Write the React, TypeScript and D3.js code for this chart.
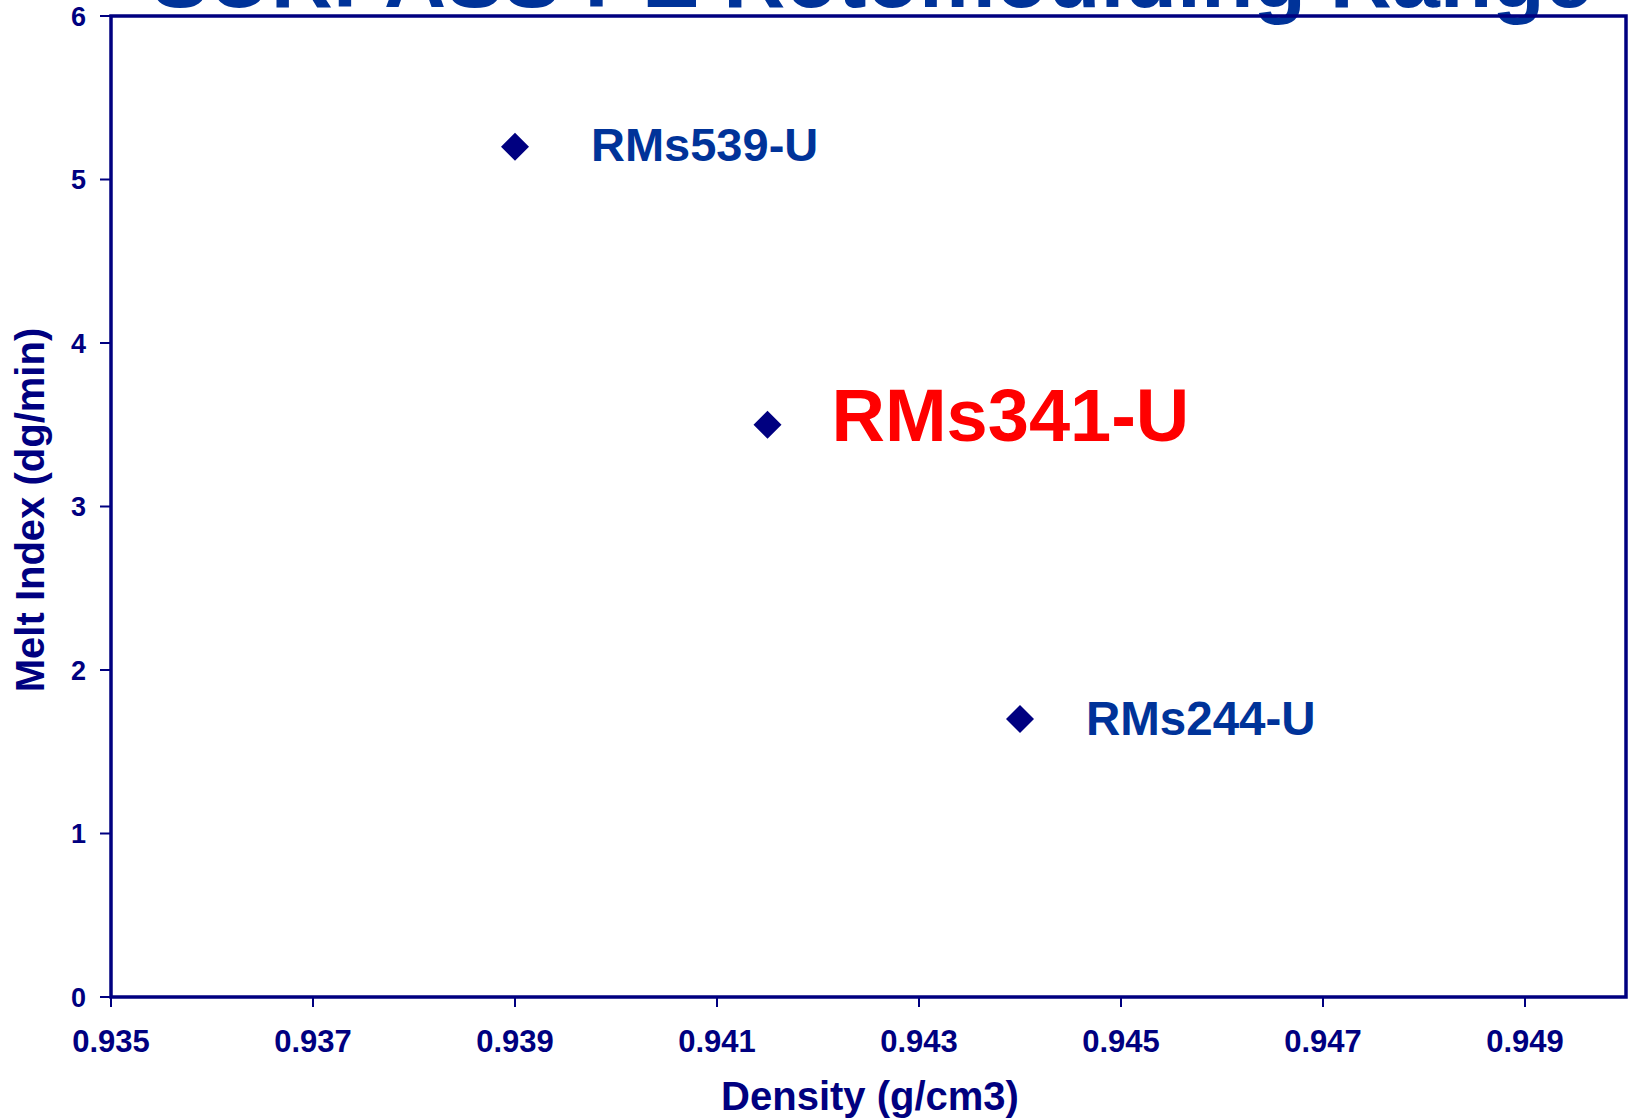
import React from "react";
import * as d3 from "d3";

const grades = ["RMs539-U", "RMs341-U", "RMs244-U"];
const density = [0.939, 0.9415, 0.944];
const meltIndex = [5.2, 3.5, 1.7];
const xTicks = [0.935, 0.937, 0.939, 0.941, 0.943, 0.945, 0.947, 0.949];
const yTicks = [0, 1, 2, 3, 4, 5, 6];

const labelStyles = [
  { color: "#003399", size: 47, dx: 76, dy: 14 },
  { color: "#FF0000", size: 74, dx: 64, dy: 16 },
  { color: "#003399", size: 47.5, dx: 66, dy: 16 },
];

const W = 1631;
const H = 1120;
const left = 111;
const right = 1626;
const top = 16;
const bottom = 997;
const navy = "#000080";
const font = "'Liberation Sans', Arial, sans-serif";

export default function App() {
  const x = d3.scaleLinear().domain([0.935, 0.95]).range([left, right]);
  const y = d3.scaleLinear().domain([0, 6]).range([bottom, top]);
  const diamond = d3.symbol().type(d3.symbolDiamond2).size(500)();

  return (
    <div style={{ position: "absolute", left: 0, top: 0 }}>
      <svg width={W} height={H} style={{ display: "block", background: "#fff" }} fontFamily={font}>
        <text x={872} y={7} textAnchor="middle" fontSize={86} fontWeight="bold" fill="#003399">
          SURPASS PE Rotomoulding Range
        </text>
        <rect x={left} y={top} width={right - left} height={bottom - top} fill="none" stroke={navy} strokeWidth={3.5} />
        {yTicks.map((t) => (
          <g key={"y" + t}>
            <line x1={left - 11} x2={left} y1={y(t)} y2={y(t)} stroke={navy} strokeWidth={2} />
            <text x={86} y={y(t) + 9.5} textAnchor="end" fontSize={27} fontWeight="bold" fill={navy}>
              {t}
            </text>
          </g>
        ))}
        {xTicks.map((t) => (
          <g key={"x" + t}>
            <line x1={x(t)} x2={x(t)} y1={bottom} y2={bottom + 10} stroke={navy} strokeWidth={2} />
            <text x={x(t)} y={1052} textAnchor="middle" fontSize={31} fontWeight="bold" fill={navy}>
              {d3.format(".3f")(t)}
            </text>
          </g>
        ))}
        <text x={870} y={1110} textAnchor="middle" fontSize={40} fontWeight="bold" fill={navy}>
          Density (g/cm3)
        </text>
        <text
          transform={`translate(44, 510) rotate(-90)`}
          textAnchor="middle"
          fontSize={40}
          fontWeight="bold"
          fill={navy}
        >
          Melt Index (dg/min)
        </text>
        {grades.map((g, i) => (
          <g key={g}>
            <path d={diamond!} transform={`translate(${x(density[i])},${y(meltIndex[i])})`} fill={navy} />
            <text
              x={x(density[i]) + labelStyles[i].dx}
              y={y(meltIndex[i]) + labelStyles[i].dy}
              fontSize={labelStyles[i].size}
              fontWeight="bold"
              fill={labelStyles[i].color}
            >
              {g}
            </text>
          </g>
        ))}
      </svg>
    </div>
  );
}
